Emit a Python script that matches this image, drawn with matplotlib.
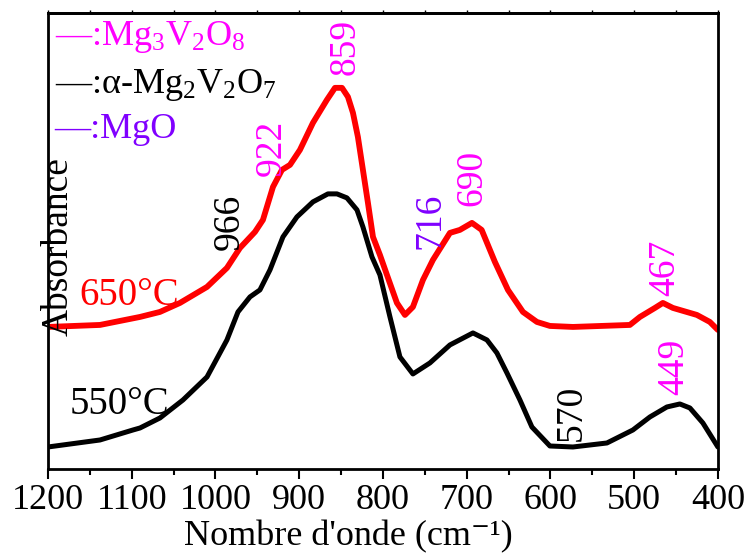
import matplotlib
matplotlib.use("Agg")
import matplotlib.pyplot as plt
from matplotlib.ticker import MultipleLocator

plt.rcParams["font.family"] = ["Liberation Serif", "DejaVu Serif"]
plt.rcParams["mathtext.fontset"] = "custom"
plt.rcParams["mathtext.rm"] = "Liberation Serif"
plt.rcParams["mathtext.it"] = "Liberation Serif:italic"

# Spectre 550°C (noir)
w_550 = [1200.0, 1137.9, 1098.5, 1090.1, 1066.3, 1038.8, 1010.1, 986.3, 973.1, 958.8,
         946.9, 934.9, 919.4, 902.7, 883.6, 865.7, 854.9, 843.0, 831.0, 823.9,
         813.1, 803.6, 791.6, 779.7, 764.2, 743.9, 720.0, 692.5, 675.8, 663.9,
         651.9, 636.4, 622.1, 600.6, 573.1, 532.5, 501.5, 481.2, 460.9, 445.4,
         433.4, 417.9, 400.0]
a_550 = [0.22, 0.29, 0.39, 0.41, 0.51, 0.69, 0.92, 1.29, 1.57, 1.72,
         1.79, 1.99, 2.32, 2.52, 2.67, 2.75, 2.75, 2.71, 2.59, 2.42,
         2.12, 1.94, 1.52, 1.12, 0.95, 1.06, 1.24, 1.36, 1.29, 1.16,
         0.96, 0.69, 0.42, 0.23, 0.22, 0.26, 0.39, 0.52, 0.62, 0.65,
         0.61, 0.46, 0.22]

# Spectre 650°C (rouge)
w_650 = [1200.0, 1137.9, 1090.1, 1066.3, 1042.4, 1010.1, 986.3, 970.7, 952.8, 943.3,
         931.3, 920.6, 911.0, 899.1, 883.6, 866.9, 857.3, 848.9, 841.8, 835.8,
         829.9, 823.9, 817.9, 811.9, 803.6, 795.2, 783.3, 773.7, 764.2, 752.2,
         740.3, 720.0, 708.1, 693.7, 682.1, 666.3, 650.7, 632.8, 616.1, 600.6,
         573.1, 505.1, 493.1, 475.2, 465.7, 453.7, 425.1, 409.6, 400.0]
a_650 = [1.42, 1.44, 1.52, 1.57, 1.66, 1.82, 2.01, 2.21, 2.37, 2.49,
         2.82, 2.99, 3.04, 3.19, 3.46, 3.69, 3.81, 3.81, 3.72, 3.56,
         3.32, 2.99, 2.66, 2.32, 2.14, 1.94, 1.66, 1.54, 1.62, 1.89,
         2.09, 2.36, 2.39, 2.46, 2.39, 2.07, 1.79, 1.57, 1.47, 1.43,
         1.42, 1.44, 1.52, 1.61, 1.66, 1.61, 1.54, 1.47, 1.39]

MAGENTA = "#FF00FF"
VIOLET = "#8000FF"

# (texte, x, y, couleur)
pics = [
    ("966", 983, 2.47, "black"),
    ("922", 933, 3.21, MAGENTA),
    ("859", 845, 4.22, MAGENTA),
    ("716", 744, 2.48, VIOLET),
    ("690", 693, 2.91, MAGENTA),
    ("467", 463, 2.01, MAGENTA),
    ("449", 452, 1.02, MAGENTA),
    ("570", 575, 0.56, "black"),
]

legende = [
    ("—:Mg$_3$V$_2$O$_8$", 4.24, MAGENTA),
    ("—:α-Mg$_2$V$_2$O$_7$", 3.76, "black"),
    ("—:MgO", 3.31, VIOLET),
]

fig = plt.figure(figsize=(7.51, 5.57), dpi=100)
ax = fig.add_axes([0.0639, 0.158, 0.892, 0.819])

ax.plot(w_550, a_550, color="black", lw=3.6, solid_joinstyle="round", solid_capstyle="round")
ax.plot(w_650, a_650, color="red", lw=4.2, solid_joinstyle="round", solid_capstyle="round")

ax.set_xlim(1200, 400)
ax.set_ylim(0, 4.56)

for txt, x, y, c in pics:
    ax.text(x, y, txt, rotation=90, color=c, fontsize=27, ha="center", va="center")

for txt, y, c in legende:
    ax.text(1192, y, txt, color=c, fontsize=26, ha="left", va="baseline")

ax.text(1103, 1.73, "650°C", color="red", fontsize=28, ha="center", va="center")
ax.text(1115, 0.64, "550°C", color="black", fontsize=28, ha="center", va="center")

ax.xaxis.set_major_locator(MultipleLocator(100))
ax.xaxis.set_minor_locator(MultipleLocator(50))
ax.tick_params(axis="x", which="major", direction="out", length=7, width=1.5,
               labelsize=26, pad=4)
ax.tick_params(axis="x", which="minor", direction="out", length=4, width=1.5)
ax.tick_params(axis="y", left=False, labelleft=False)
sec = ax.secondary_xaxis("top")
sec.xaxis.set_major_locator(MultipleLocator(50))
sec.tick_params(direction="out", length=2.5, width=1, labeltop=False)
sec.spines["top"].set_linewidth(2)
for s in ax.spines.values():
    s.set_linewidth(2)

ax.set_xlabel("Nombre d'onde (cm⁻¹)", fontsize=26, labelpad=2)
ax.xaxis.label.set_x(0.449)
ax.text(0.016, 0.487, "Absorbance", rotation=90, fontsize=27,
        transform=ax.transAxes, ha="center", va="center")

fig.savefig("out.png", dpi=100)
